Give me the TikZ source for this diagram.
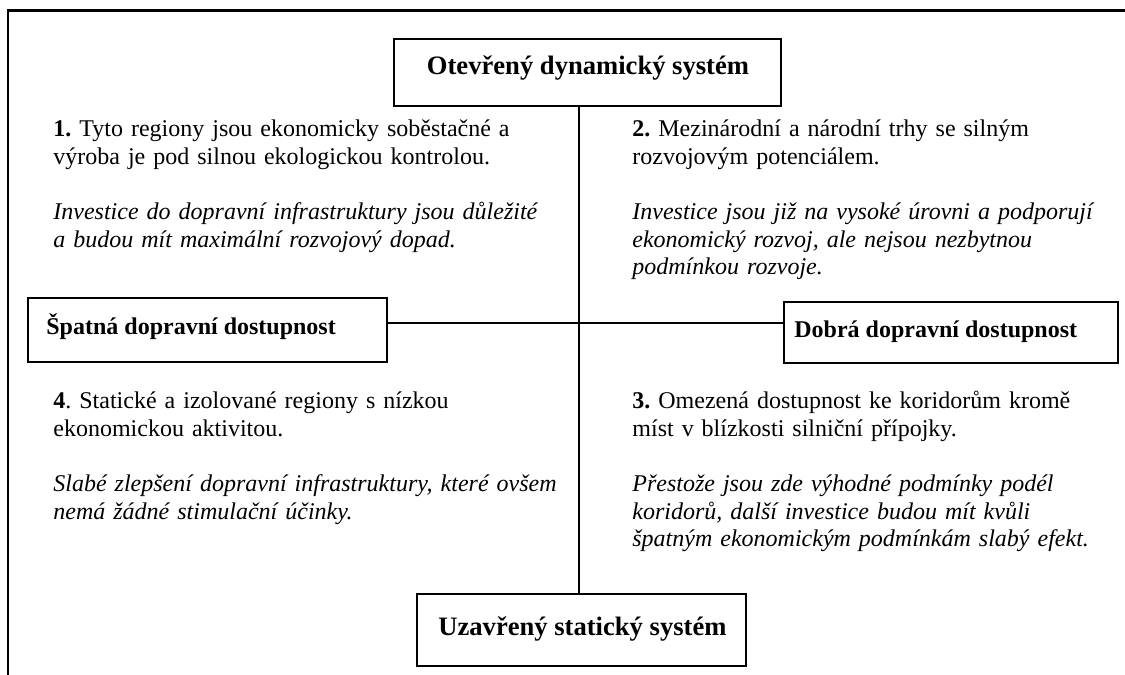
\documentclass[tikz,border=0pt]{standalone}
\usepackage{fontspec}
\setmainfont{Liberation Serif}
\frenchspacing
\begin{document}
\begin{tikzpicture}[x=0.5pt,y=-0.5pt,
  frame/.style={line width=1.3pt},
  boxnode/.style={draw,line width=1.2pt,inner sep=0pt,anchor=north west},
  conn/.style={line width=1pt},
  headbig/.style={font=\fontsize{13.3}{16}\selectfont\bfseries,inner sep=0pt},
  headsmall/.style={font=\fontsize{12}{14}\selectfont\bfseries,inner sep=0pt},
  body/.style={font=\fontsize{12}{13.8}\selectfont\frenchspacing,inner sep=0pt,anchor=north west,text width=270pt,align=left}]
\useasboundingbox (0,0) rectangle (1125,675);
\fill[white] (0,0) rectangle (1125,675);
% outer frame (left and top only)
\draw[frame] (8,675) -- (8,10.5) -- (1125,10.5);
% boxes
\node[boxnode,minimum width=193.5pt,minimum height=33.5pt] (top) at (393,38) {};
\node[boxnode,minimum width=179.5pt,minimum height=32pt] (left) at (27,297) {};
\node[boxnode,minimum width=167pt,minimum height=30.5pt] (right) at (783,301) {};
\node[boxnode,minimum width=164.5pt,minimum height=36pt] (bottom) at (416,593) {};
% box texts
\node[headbig,anchor=base] (toptext) at (588,74) {Otevřený dynamický systém};
\node[headsmall,anchor=base west] (lefttext) at (46,334) {Špatná dopravní dostupnost};
\node[headsmall,anchor=base west] (righttext) at (794,337) {Dobrá dopravní dostupnost};
\node[headbig,anchor=base west] (bottomtext) at (438,635) {Uzavřený statický systém};
% connectors
\coordinate (vx) at (579,0);
\coordinate (hy) at (0,323);
\draw[conn] (top.south -| vx) -- (bottom.north -| vx);
\draw[conn] (left.east |- hy) -- (right.west |- hy);
% quadrant texts
\node[body] (q1) at (53,117) {\strut\textbf{1.} Tyto regiony jsou ekonomicky soběstačné a\\
výroba je pod silnou ekologickou kontrolou.\\[13.8pt]
\textit{Investice do dopravní infrastruktury jsou důležité}\\
\textit{a budou mít maximální rozvojový dopad.}};
\node[body] (q2) at (632,117) {\strut\textbf{2.} Mezinárodní a národní trhy se silným\\
rozvojovým potenciálem.\\[13.8pt]
\textit{Investice jsou již na vysoké úrovni a podporují}\\
\textit{ekonomický rozvoj, ale nejsou nezbytnou}\\
\textit{podmínkou rozvoje.}};
\node[body] (q4) at (53,389) {\strut\textbf{4}. Statické a izolované regiony s nízkou\\
ekonomickou aktivitou.\\[13.8pt]
\textit{Slabé zlepšení dopravní infrastruktury, které ovšem}\\
\textit{nemá žádné stimulační účinky.}};
\node[body] (q3) at (632,389) {\strut\textbf{3.} Omezená dostupnost ke koridorům kromě\\
míst v blízkosti silniční přípojky.\\[13.8pt]
\textit{Přestože jsou zde výhodné podmínky podél}\\
\textit{koridorů, další investice budou mít kvůli}\\
\textit{špatným ekonomickým podmínkám slabý efekt.}};
\end{tikzpicture}
\end{document}
